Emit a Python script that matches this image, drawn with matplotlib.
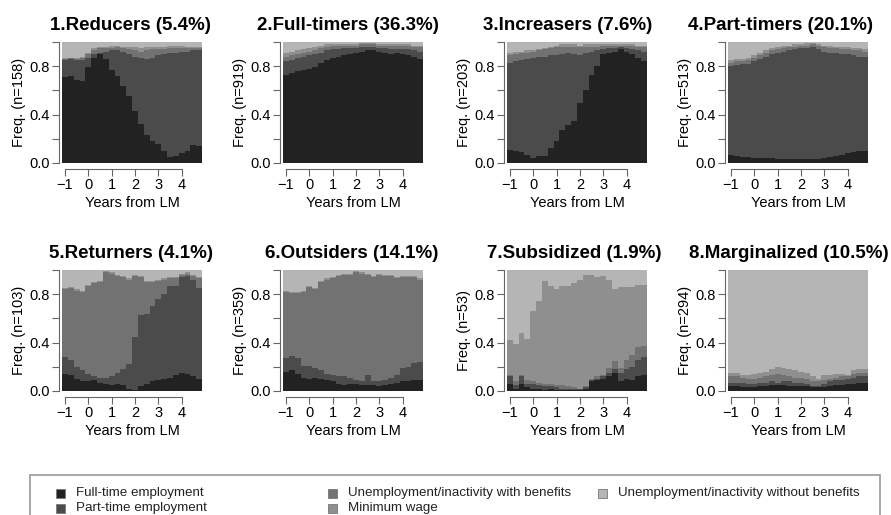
import matplotlib
matplotlib.use("Agg")
import matplotlib.pyplot as plt
import matplotlib.patches as mpatches
import numpy as np

plt.rcParams['font.family'] = ['Liberation Sans', 'DejaVu Sans']

# quarters from one year before LM to end of year 4
years = np.arange(24) * 0.25 - 1
edges = np.append(years - 0.125, years[-1] + 0.125)

states = ["Full-time employment", "Part-time employment",
          "Unemployment/inactivity with benefits", "Minimum wage",
          "Unemployment/inactivity without benefits"]
colors = ['#222222', '#4b4b4b', '#727272', '#8f8f8f', '#b5b5b5']

titles = ["1.Reducers (5.4%)", "2.Full-timers (36.3%)", "3.Increasers (7.6%)",
          "4.Part-timers (20.1%)", "5.Returners (4.1%)", "6.Outsiders (14.1%)",
          "7.Subsidized (1.9%)", "8.Marginalized (10.5%)"]
n_obs = [158, 919, 203, 513, 103, 359, 53, 294]

# cumulative share at the top of the first four states (the last state fills to 1)
reducers = [
    [0.71, 0.72, 0.69, 0.68, 0.79, 0.87, 0.90, 0.86, 0.77, 0.72, 0.64, 0.55,
     0.43, 0.32, 0.23, 0.18, 0.16, 0.10, 0.05, 0.06, 0.08, 0.10, 0.15, 0.14],
    [0.85, 0.86, 0.85, 0.85, 0.87, 0.90, 0.91, 0.92, 0.93, 0.93, 0.92, 0.90,
     0.88, 0.87, 0.86, 0.87, 0.89, 0.90, 0.91, 0.91, 0.92, 0.92, 0.93, 0.93],
    [0.86, 0.87, 0.86, 0.87, 0.90, 0.93, 0.95, 0.95, 0.95, 0.96, 0.95, 0.94,
     0.93, 0.92, 0.93, 0.94, 0.94, 0.94, 0.95, 0.95, 0.95, 0.95, 0.95, 0.95],
    [0.87, 0.87, 0.87, 0.88, 0.91, 0.95, 0.96, 0.96, 0.97, 0.97, 0.96, 0.96,
     0.96, 0.95, 0.96, 0.96, 0.96, 0.96, 0.97, 0.97, 0.97, 0.96, 0.96, 0.96],
]
full_timers = [
    [0.73, 0.74, 0.76, 0.77, 0.78, 0.79, 0.83, 0.85, 0.87, 0.88, 0.89, 0.90,
     0.91, 0.92, 0.93, 0.93, 0.92, 0.91, 0.90, 0.91, 0.90, 0.89, 0.88, 0.86],
    [0.84, 0.85, 0.87, 0.88, 0.89, 0.90, 0.91, 0.93, 0.94, 0.94, 0.95, 0.95,
     0.95, 0.96, 0.96, 0.96, 0.95, 0.95, 0.94, 0.94, 0.94, 0.94, 0.93, 0.92],
    [0.88, 0.89, 0.90, 0.91, 0.92, 0.93, 0.95, 0.96, 0.97, 0.97, 0.97, 0.97,
     0.97, 0.98, 0.98, 0.98, 0.97, 0.97, 0.97, 0.97, 0.97, 0.97, 0.96, 0.96],
    [0.91, 0.92, 0.93, 0.94, 0.95, 0.96, 0.97, 0.98, 0.98, 0.98, 0.98, 0.98,
     0.98, 0.99, 0.99, 0.99, 0.98, 0.98, 0.98, 0.98, 0.98, 0.98, 0.97, 0.97],
]
increasers = [
    [0.11, 0.10, 0.09, 0.07, 0.04, 0.06, 0.06, 0.12, 0.18, 0.27, 0.31, 0.35,
     0.50, 0.60, 0.73, 0.80, 0.90, 0.91, 0.92, 0.94, 0.92, 0.90, 0.87, 0.84],
    [0.83, 0.84, 0.85, 0.86, 0.87, 0.88, 0.88, 0.89, 0.89, 0.90, 0.91, 0.90,
     0.89, 0.91, 0.92, 0.93, 0.94, 0.95, 0.95, 0.96, 0.95, 0.94, 0.93, 0.92],
    [0.89, 0.90, 0.91, 0.91, 0.92, 0.93, 0.94, 0.95, 0.96, 0.96, 0.96, 0.96,
     0.96, 0.96, 0.96, 0.96, 0.97, 0.97, 0.97, 0.97, 0.97, 0.97, 0.96, 0.96],
    [0.91, 0.92, 0.92, 0.93, 0.93, 0.94, 0.95, 0.96, 0.97, 0.98, 0.98, 0.98,
     0.97, 0.98, 0.98, 0.98, 0.98, 0.98, 0.98, 0.98, 0.98, 0.98, 0.97, 0.97],
]
part_timers = [
    [0.07, 0.06, 0.05, 0.05, 0.04, 0.04, 0.04, 0.04, 0.03, 0.03, 0.03, 0.03,
     0.03, 0.03, 0.03, 0.03, 0.04, 0.05, 0.06, 0.07, 0.08, 0.09, 0.10, 0.10],
    [0.80, 0.81, 0.82, 0.82, 0.84, 0.86, 0.88, 0.90, 0.91, 0.92, 0.93, 0.94,
     0.95, 0.95, 0.96, 0.94, 0.92, 0.91, 0.91, 0.90, 0.90, 0.89, 0.88, 0.88],
    [0.83, 0.84, 0.84, 0.85, 0.87, 0.89, 0.91, 0.93, 0.94, 0.95, 0.96, 0.96,
     0.97, 0.97, 0.98, 0.97, 0.96, 0.95, 0.95, 0.94, 0.94, 0.93, 0.93, 0.92],
    [0.85, 0.86, 0.86, 0.87, 0.89, 0.91, 0.93, 0.95, 0.96, 0.97, 0.97, 0.98,
     0.98, 0.99, 0.99, 0.98, 0.97, 0.97, 0.96, 0.96, 0.96, 0.95, 0.95, 0.94],
]
returners = [
    [0.14, 0.13, 0.10, 0.08, 0.08, 0.09, 0.07, 0.06, 0.05, 0.06, 0.05, 0.02,
     0.01, 0.04, 0.06, 0.08, 0.09, 0.10, 0.11, 0.13, 0.15, 0.14, 0.12, 0.10],
    [0.28, 0.26, 0.20, 0.17, 0.14, 0.12, 0.11, 0.11, 0.12, 0.15, 0.18, 0.22,
     0.45, 0.63, 0.64, 0.70, 0.76, 0.80, 0.87, 0.87, 0.94, 0.95, 0.92, 0.85],
    [0.84, 0.85, 0.83, 0.82, 0.87, 0.89, 0.90, 0.98, 0.97, 0.95, 0.94, 0.92,
     0.95, 0.94, 0.90, 0.90, 0.91, 0.92, 0.93, 0.93, 0.96, 0.97, 0.95, 0.93],
    [0.85, 0.86, 0.84, 0.83, 0.88, 0.90, 0.91, 0.99, 0.98, 0.96, 0.95, 0.93,
     0.96, 0.95, 0.91, 0.91, 0.92, 0.93, 0.94, 0.94, 0.97, 0.98, 0.96, 0.94],
]
outsiders = [
    [0.16, 0.17, 0.14, 0.11, 0.10, 0.11, 0.10, 0.09, 0.08, 0.06, 0.05, 0.06,
     0.06, 0.05, 0.05, 0.05, 0.04, 0.05, 0.06, 0.07, 0.08, 0.08, 0.09, 0.09],
    [0.27, 0.29, 0.27, 0.21, 0.21, 0.19, 0.17, 0.14, 0.13, 0.12, 0.12, 0.11,
     0.09, 0.08, 0.13, 0.08, 0.08, 0.09, 0.11, 0.13, 0.19, 0.20, 0.23, 0.24],
    [0.82, 0.81, 0.81, 0.82, 0.86, 0.84, 0.90, 0.92, 0.93, 0.95, 0.96, 0.96,
     0.98, 0.97, 0.96, 0.94, 0.96, 0.95, 0.95, 0.93, 0.94, 0.94, 0.94, 0.92],
    [0.83, 0.82, 0.82, 0.83, 0.87, 0.85, 0.91, 0.93, 0.94, 0.96, 0.97, 0.97,
     0.99, 0.98, 0.97, 0.95, 0.97, 0.96, 0.96, 0.94, 0.95, 0.95, 0.95, 0.93],
]
subsidized = [
    [0.06, 0.02, 0.06, 0.03, 0.02, 0.02, 0.01, 0.02, 0.01, 0.01, 0.01, 0.01,
     0.01, 0.02, 0.08, 0.09, 0.10, 0.12, 0.15, 0.08, 0.10, 0.09, 0.12, 0.13],
    [0.12, 0.05, 0.12, 0.06, 0.06, 0.05, 0.04, 0.04, 0.03, 0.02, 0.02, 0.02,
     0.02, 0.03, 0.09, 0.10, 0.12, 0.15, 0.18, 0.15, 0.18, 0.20, 0.26, 0.28],
    [0.13, 0.08, 0.13, 0.09, 0.08, 0.07, 0.06, 0.06, 0.05, 0.05, 0.04, 0.03,
     0.02, 0.04, 0.10, 0.12, 0.13, 0.19, 0.25, 0.19, 0.26, 0.30, 0.36, 0.37],
    [0.42, 0.39, 0.48, 0.43, 0.66, 0.74, 0.91, 0.87, 0.84, 0.87, 0.87, 0.89,
     0.92, 0.96, 0.96, 0.94, 0.95, 0.92, 0.84, 0.86, 0.86, 0.86, 0.88, 0.88],
]
marginalized = [
    [0.04, 0.04, 0.03, 0.03, 0.03, 0.04, 0.04, 0.05, 0.05, 0.05, 0.04, 0.04,
     0.04, 0.04, 0.03, 0.03, 0.03, 0.04, 0.05, 0.05, 0.06, 0.06, 0.07, 0.07],
    [0.07, 0.07, 0.07, 0.06, 0.06, 0.07, 0.07, 0.08, 0.07, 0.08, 0.08, 0.07,
     0.07, 0.06, 0.04, 0.04, 0.06, 0.08, 0.09, 0.09, 0.10, 0.11, 0.12, 0.12],
    [0.12, 0.12, 0.11, 0.10, 0.10, 0.11, 0.12, 0.13, 0.14, 0.13, 0.12, 0.11,
     0.11, 0.10, 0.08, 0.08, 0.09, 0.10, 0.11, 0.12, 0.12, 0.14, 0.15, 0.15],
    [0.15, 0.15, 0.13, 0.13, 0.14, 0.15, 0.16, 0.18, 0.20, 0.19, 0.18, 0.17,
     0.16, 0.15, 0.12, 0.10, 0.13, 0.13, 0.14, 0.14, 0.13, 0.17, 0.18, 0.18],
]
clusters = [reducers, full_timers, increasers, part_timers,
            returners, outsiders, subsidized, marginalized]

fig = plt.figure(figsize=(8.91, 5.15), dpi=100)

lefts = [62, 283, 507, 728]
tops = [42, 270]
title_x = [130, 348, 568, 781, 131, 352, 574, 789]   # title centres, pixels
for k, cum in enumerate(clusters):
    row, col = divmod(k, 4)
    ax = fig.add_axes([lefts[col] / 891, 1 - (tops[row] + 121) / 515, 140 / 891, 121 / 515])

    bounds = np.vstack([np.zeros(24), np.array(cum), np.ones(24)])
    for s in range(5):
        ax.stairs(bounds[s + 1], edges, baseline=bounds[s], fill=True,
                  color=colors[s], linewidth=0)

    ax.set_xlim(-1.125, 4.875)
    ax.set_ylim(0, 1)
    ax.set_title(titles[k], fontsize=13.5, fontweight='bold', pad=9,
                 x=(title_x[k] - lefts[col]) / 140)
    ax.set_ylabel("Freq. (n=%d)" % n_obs[k], fontsize=10.5, labelpad=2)
    ax.set_xlabel("Years from LM", fontsize=10.5, labelpad=3)

    ax.set_xticks([-1, 0, 1, 2, 3, 4])
    ax.set_xticklabels(["\u22121", "0", "1", "2", "3", "4"])
    ax.set_yticks([0, 0.2, 0.4, 0.6, 0.8, 1.0])
    ax.set_yticklabels(["0.0", "", "0.4", "", "0.8", ""], rotation=90, va='center')
    ax.tick_params(labelsize=10.5, length=5, width=0.8, color='#666666', pad=2)

    for side in ['top', 'right']:
        ax.spines[side].set_visible(False)
    ax.spines['left'].set_position(('outward', 2))
    ax.spines['left'].set_bounds(0, 1)
    ax.spines['bottom'].set_position(('outward', 4))
    ax.spines['bottom'].set_bounds(-1, 4)
    for side in ['left', 'bottom']:
        ax.spines[side].set_color('#666666')
        ax.spines[side].set_linewidth(0.8)

# legend panel, drawn by hand in pixel positions (R-style layout)
frame = mpatches.Rectangle((30 / 891, -0.05), 850 / 891, 0.05 + 1 - 475 / 515,
                           transform=fig.transFigure, facecolor='none',
                           edgecolor='#999999', linewidth=1.2)
fig.patches.append(frame)
key_x = [56, 56, 328, 328, 598]
key_y = [493, 508, 493, 508, 493]
for s in range(5):
    sq = mpatches.Rectangle((key_x[s] / 891, 1 - (key_y[s] + 4.5) / 515), 9 / 891, 9 / 515,
                            transform=fig.transFigure, facecolor=colors[s],
                            edgecolor='#777777', linewidth=0.6)
    fig.patches.append(sq)
    fig.text((key_x[s] + 20) / 891, 1 - key_y[s] / 515, states[s], fontsize=9.6,
             va='center', ha='left', color='#222222')

fig.savefig("out.png", dpi=100)
